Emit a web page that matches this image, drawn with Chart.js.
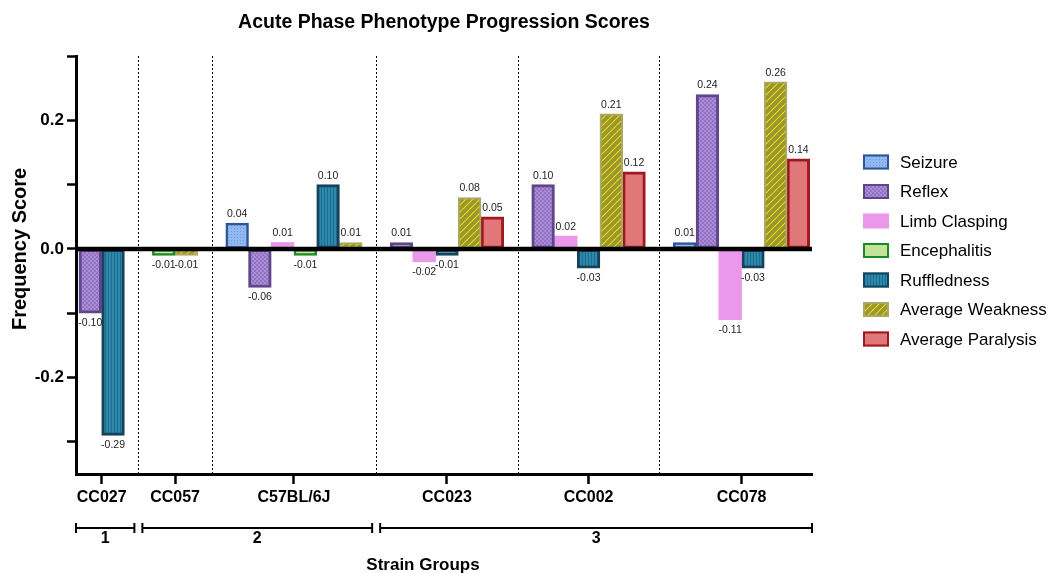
<!DOCTYPE html>
<html>
<head>
<meta charset="utf-8">
<title>Acute Phase Phenotype Progression Scores</title>
<script src="https://cdn.jsdelivr.net/npm/chart.js@4.4.1/dist/chart.umd.min.js"></script>
<style>
  html, body { margin: 0; padding: 0; background: #ffffff; }
  #wrap { width: 1049px; height: 573px; position: relative; }
</style>
</head>
<body>
<div id="wrap"><canvas id="chart"></canvas></div>
<script>
// ---- data ----
const categories = ['CC027', 'CC057', 'C57BL/6J', 'CC023', 'CC002', 'CC078'];
const strainGroups = [1, 2, 2, 3, 3, 3];
const seriesNames = ['Seizure', 'Reflex', 'Limb Clasping', 'Encephalitis', 'Ruffledness', 'Average Weakness', 'Average Paralysis'];
const seizure      = [null,  null,  0.04,  null,  null,  0.01];
const reflex       = [-0.10, null, -0.06,  0.01,  0.10,  0.24];
const limbClasping = [null,  null,  0.01, -0.02,  0.02, -0.11];
const encephalitis = [null, -0.01, -0.01,  null,  null,  null];
const ruffledness  = [-0.29, null,  0.10, -0.01, -0.03, -0.03];
const avgWeakness  = [null, -0.01,  0.01,  0.08,  0.21,  0.26];
const avgParalysis = [null,  null,  null,  0.05,  0.12,  0.14];
const yTickValues  = [-0.3, -0.2, -0.1, 0, 0.1, 0.2, 0.3];
const seriesValues = [seizure, reflex, limbClasping, encephalitis, ruffledness, avgWeakness, avgParalysis];

const FONT = "'Liberation Sans', Arial, Helvetica, sans-serif";
Chart.defaults.font.family = FONT;
Chart.defaults.color = '#000';

// ---- fill patterns ----
function makePattern(w, h, draw) {
  const c = document.createElement('canvas');
  c.width = w; c.height = h;
  const g = c.getContext('2d');
  draw(g, w, h);
  return g.createPattern(c, 'repeat');
}
const seizureFill = makePattern(3, 3, (g) => {
  g.fillStyle = '#92b8f1'; g.fillRect(0, 0, 3, 3);
  g.fillStyle = '#6f9adf'; g.fillRect(0, 0, 1, 1);
});
const reflexFill = makePattern(4, 4, (g) => {
  g.fillStyle = '#aa8bd8'; g.fillRect(0, 0, 4, 4);
  g.fillStyle = '#9274c3'; g.fillRect(0, 0, 2, 2); g.fillRect(2, 2, 2, 2);
});
const ruffleFill = makePattern(3, 1, (g) => {
  g.fillStyle = '#2c89ab'; g.fillRect(0, 0, 3, 1);
  g.fillStyle = '#1e6d8e'; g.fillRect(0, 0, 1, 1);
});
const weaknessFill = makePattern(7, 7, (g) => {
  g.fillStyle = '#9c962c'; g.fillRect(0, 0, 7, 7);
  g.strokeStyle = '#e2df26'; g.lineWidth = 1.1;
  for (const k of [-7, 0, 7]) { g.beginPath(); g.moveTo(k, 7); g.lineTo(k + 7, 0); g.stroke(); }
});

const styles = [
  { bg: seizureFill,  border: '#2d5697', bw: 2.5 },
  { bg: reflexFill,   border: '#5f4688', bw: 3 },
  { bg: '#ea98ea',    border: '#ea98ea', bw: 0 },
  { bg: '#c3e39b',    border: '#1b8b25', bw: 2.5 },
  { bg: ruffleFill,   border: '#17425d', bw: 3 },
  { bg: weaknessFill, border: '#aba764', bw: 2 },
  { bg: '#e07779',    border: '#a0191f', bw: 3 }
];

// ---- bar slot layout: only present series take a slot within a strain ----
const GAP = 1.23, LEAD = 0.13, TRAIL = 0.1;
let cursor = LEAD;
const slots = [];
const points = seriesValues.map(() => []);
categories.forEach((cat, ci) => {
  if (ci > 0) cursor += GAP;
  const start = cursor;
  seriesValues.forEach((vals, si) => {
    if (vals[ci] !== null) {
      points[si].push({ x: cursor + 0.5, y: vals[ci] });
      cursor += 1;
    }
  });
  slots.push({ start, end: cursor, center: (start + cursor) / 2 });
});
const xMax = cursor + TRAIL;
const separators = slots.slice(1).map((s, i) => (slots[i].end + s.start) / 2);

const datasets = seriesNames.map((name, si) => ({
  label: name,
  data: points[si],
  backgroundColor: styles[si].bg,
  borderColor: styles[si].border,
  borderWidth: styles[si].bw,
  borderSkipped: false
}));

// ---- extra drawing: separators, zero line, value labels, legend, axis titles, strain groups ----
const decor = {
  id: 'decor',
  beforeDatasetsDraw(chart) {
    const { ctx, chartArea: a, scales: { x } } = chart;
    ctx.save();
    ctx.strokeStyle = '#000';
    ctx.lineWidth = 1;
    ctx.setLineDash([2, 2]);
    separators.forEach((v) => {
      const px = Math.round(x.getPixelForValue(v)) + 0.5;
      ctx.beginPath(); ctx.moveTo(px, a.top); ctx.lineTo(px, a.bottom); ctx.stroke();
    });
    ctx.restore();
  },
  afterDatasetsDraw(chart) {
    const { ctx, chartArea: a, scales: { y } } = chart;
    ctx.save();
    // zero line
    const y0 = y.getPixelForValue(0);
    ctx.strokeStyle = '#000';
    ctx.lineWidth = 4.5;
    ctx.beginPath(); ctx.moveTo(a.left, y0); ctx.lineTo(a.right, y0); ctx.stroke();
    // value labels
    ctx.font = '10.5px ' + FONT;
    ctx.fillStyle = '#222';
    ctx.textAlign = 'center';
    ctx.textBaseline = 'middle';
    chart.data.datasets.forEach((ds, di) => {
      const meta = chart.getDatasetMeta(di);
      meta.data.forEach((bar, i) => {
        const v = ds.data[i].y;
        const ty = v >= 0 ? bar.y - 9 : bar.y + 10;
        ctx.fillText(v.toFixed(2), bar.x, ty);
      });
    });
    ctx.restore();
  },
  afterDraw(chart) {
    const { ctx, chartArea: a, scales: { x, y } } = chart;
    ctx.save();
    // legend
    const lx = 863, ly0 = 162, step = 29.5, bwid = 26, bht = 15;
    ctx.textAlign = 'left';
    ctx.textBaseline = 'middle';
    chart.data.datasets.forEach((ds, i) => {
      const cy = ly0 + i * step;
      ctx.fillStyle = ds.backgroundColor;
      ctx.fillRect(lx, cy - bht / 2, bwid, bht);
      if (ds.borderWidth > 0) {
        ctx.strokeStyle = ds.borderColor;
        ctx.lineWidth = 2;
        ctx.strokeRect(lx + 1, cy - bht / 2 + 1, bwid - 2, bht - 2);
      }
      ctx.fillStyle = '#000';
      ctx.font = '17px ' + FONT;
      ctx.fillText(ds.label, 900, cy + 1);
    });
    // y axis title, centred on the zero line
    ctx.save();
    ctx.translate(20, y.getPixelForValue(0));
    ctx.rotate(-Math.PI / 2);
    ctx.font = 'bold 20px ' + FONT;
    ctx.textAlign = 'center';
    ctx.textBaseline = 'middle';
    ctx.fillStyle = '#000';
    ctx.fillText('Frequency Score', 0, 0);
    ctx.restore();
    // strain group brackets
    const groupIds = [...new Set(strainGroups)];
    const by = 528;
    ctx.strokeStyle = '#000';
    ctx.lineWidth = 2;
    groupIds.forEach((g) => {
      const first = strainGroups.indexOf(g);
      const last = strainGroups.lastIndexOf(g);
      const x1 = first === 0 ? a.left : x.getPixelForValue(separators[first - 1]) + 4;
      const x2 = last === categories.length - 1 ? a.right : x.getPixelForValue(separators[last]) - 4;
      ctx.beginPath();
      ctx.moveTo(x1, by); ctx.lineTo(x2, by);
      ctx.moveTo(x1, by - 5); ctx.lineTo(x1, by + 5);
      ctx.moveTo(x2, by - 5); ctx.lineTo(x2, by + 5);
      ctx.stroke();
      ctx.fillStyle = '#000';
      ctx.font = 'bold 16px ' + FONT;
      ctx.textAlign = 'center';
      ctx.textBaseline = 'middle';
      ctx.fillText(String(g), (x1 + x2) / 2, 539);
    });
    ctx.font = 'bold 17px ' + FONT;
    ctx.textAlign = 'center';
    ctx.textBaseline = 'middle';
    ctx.fillText('Strain Groups', (a.left + a.right) / 2 - 21, 565);
    ctx.restore();
  }
};

new Chart(document.getElementById('chart'), {
  type: 'bar',
  data: { datasets },
  options: {
    responsive: true,
    maintainAspectRatio: false,
    animation: false,
    layout: { padding: { left: 0, right: 237, top: 0, bottom: 0 } },
    datasets: { bar: { grouped: false, categoryPercentage: 1, barPercentage: 1 } },
    plugins: {
      legend: { display: false },
      tooltip: { enabled: false },
      title: {
        display: true,
        fullSize: false,
        text: 'Acute Phase Phenotype Progression Scores',
        color: '#000',
        font: { size: 19.5, weight: 'bold' },
        padding: { top: 11, bottom: 21.6 }
      }
    },
    scales: {
      x: {
        type: 'linear',
        min: 0,
        max: xMax,
        offset: false,
        afterFit(s) { s.height = 99; },
        afterBuildTicks(s) { s.ticks = slots.map((sl) => ({ value: sl.center })); },
        ticks: {
          autoSkip: false, maxRotation: 0, padding: 4, color: '#000',
          font: { size: 16, weight: 'bold' },
          callback: (v, i) => categories[i]
        },
        grid: { offset: false, drawOnChartArea: false, drawTicks: true, tickLength: 10, tickWidth: 2.5, tickColor: '#000' },
        border: { display: true, color: '#000', width: 3 }
      },
      y: {
        min: -0.35,
        max: 0.3,
        afterFit(s) { s.width = 76; },
        afterBuildTicks(s) { s.ticks = yTickValues.map((v) => ({ value: v })); },
        ticks: {
          padding: 3, color: '#000',
          font: { size: 17, weight: 'bold' },
          callback: (v) => (Math.round(v * 10) % 2 === 0 ? v.toFixed(1) : '')
        },
        grid: { drawOnChartArea: false, drawTicks: true, tickLength: 9, tickWidth: 2.5, tickColor: '#000' },
        border: { display: true, color: '#000', width: 3 }
      }
    }
  },
  plugins: [decor]
});
</script>
</body>
</html>
